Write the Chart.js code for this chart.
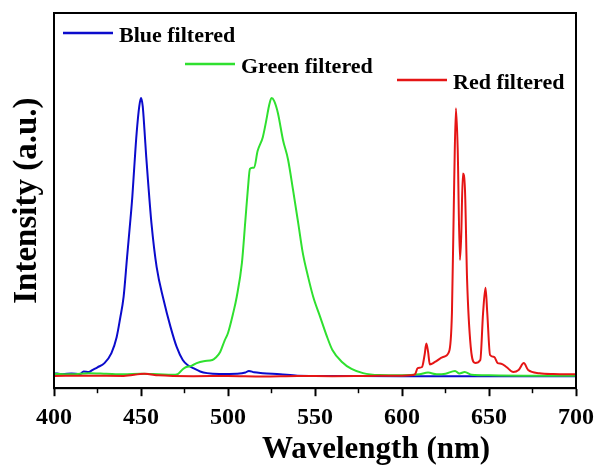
<!DOCTYPE html>
<html>
<head>
<meta charset="utf-8">
<script src="https://cdn.jsdelivr.net/npm/chart.js@4.4.1/dist/chart.umd.min.js"></script>
<style>
  html, body { margin: 0; padding: 0; background: #fff; }
  canvas { display: block; }
</style>
</head>
<body>
<canvas id="spectrumChart" width="598" height="465"></canvas>
<script>
// wavelength (nm) / intensity (a.u., peak = 1)
const blueWavelength = [400, 405, 410, 415, 417, 420, 422, 425, 429, 433, 436, 438, 440, 442, 444, 445, 446, 447.5, 449, 450, 451, 452, 453, 454, 456, 459, 463, 467, 470.5, 474, 477, 480, 484, 488, 495, 505, 510, 512, 515, 520, 530, 540, 560, 600, 650, 700];
const blueIntensity = [0.014, 0.010, 0.013, 0.011, 0.020, 0.018, 0.025, 0.035, 0.050, 0.086, 0.143, 0.210, 0.287, 0.430, 0.570, 0.645, 0.740, 0.875, 0.970, 1.000, 0.970, 0.885, 0.790, 0.706, 0.552, 0.394, 0.276, 0.179, 0.108, 0.061, 0.042, 0.032, 0.020, 0.014, 0.011, 0.012, 0.016, 0.022, 0.017, 0.014, 0.010, 0.005, 0.004, 0.003, 0.003, 0.003];

const greenWavelength = [400, 410, 420, 430, 440, 450, 460, 468, 471, 474, 476, 479, 482, 486, 491, 493, 495.5, 498, 500, 503, 505, 508, 510, 511.5, 512.6, 514, 515, 517, 520, 522, 523.5, 525, 526.5, 528.7, 531.6, 534.5, 537.4, 540.4, 543, 546, 549, 553, 557, 560, 565.5, 571, 577.6, 587, 600, 610, 615, 620, 625, 630.5, 633, 636, 640, 650, 670, 700];
const greenIntensity = [0.012, 0.010, 0.014, 0.012, 0.010, 0.012, 0.010, 0.008, 0.010, 0.028, 0.036, 0.040, 0.050, 0.057, 0.061, 0.070, 0.090, 0.130, 0.158, 0.230, 0.287, 0.409, 0.563, 0.680, 0.746, 0.750, 0.750, 0.810, 0.860, 0.920, 0.970, 1.000, 0.990, 0.946, 0.850, 0.780, 0.670, 0.550, 0.444, 0.360, 0.287, 0.215, 0.143, 0.097, 0.054, 0.029, 0.014, 0.007, 0.006, 0.010, 0.016, 0.010, 0.012, 0.022, 0.013, 0.018, 0.008, 0.006, 0.005, 0.005];

const redWavelength = [400, 420, 440, 452, 455, 460, 480, 500, 520, 540, 560, 580, 600, 605, 607.5, 609, 611.5, 613, 614, 615, 616, 619, 623.6, 627, 628.7, 630, 631, 632, 633.3, 634, 635, 636.2, 637.4, 639.5, 642, 645, 646.6, 648, 649, 650.6, 653, 655, 657, 660, 664, 667, 670, 672.5, 679, 687, 700];
const redIntensity = [0.004, 0.005, 0.004, 0.012, 0.010, 0.006, 0.003, 0.004, 0.002, 0.004, 0.003, 0.004, 0.005, 0.006, 0.010, 0.032, 0.036, 0.080, 0.120, 0.090, 0.045, 0.054, 0.072, 0.090, 0.230, 0.700, 0.964, 0.820, 0.420, 0.500, 0.730, 0.670, 0.350, 0.108, 0.050, 0.061, 0.230, 0.320, 0.230, 0.079, 0.072, 0.050, 0.048, 0.036, 0.018, 0.025, 0.050, 0.025, 0.014, 0.011, 0.010];

const seriesLabels = ['Blue filtered', 'Green filtered', 'Red filtered'];
const xTicks = [400, 450, 500, 550, 600, 650, 700];
const xMinorTicks = [425, 475, 525, 575, 625, 675];

const serif = "'Liberation Serif', 'Times New Roman', serif";

function toPoints(xs, ys) {
    return xs.map((x, i) => ({ x: x, y: ys[i] }));
}

// frame, minor ticks, axis titles and the staggered legend
const decorations = {
    id: 'decorations',
    afterDraw(chart) {
        const ctx = chart.ctx;
        const a = chart.chartArea;
        const xs = chart.scales.x;
        ctx.save();
        ctx.strokeStyle = '#000';
        ctx.lineWidth = 2;
        ctx.strokeRect(a.left, a.top, a.right - a.left, a.bottom - a.top);

        ctx.lineWidth = 1.5;
        xMinorTicks.forEach(v => {
            const px = xs.getPixelForValue(v);
            ctx.beginPath();
            ctx.moveTo(px, a.bottom);
            ctx.lineTo(px, a.bottom + 5);
            ctx.stroke();
        });

        ctx.fillStyle = '#000';
        ctx.font = 'bold 31px ' + serif;
        ctx.textAlign = 'center';
        ctx.textBaseline = 'alphabetic';
        ctx.fillText('Wavelength (nm)', 376, 458);

        ctx.save();
        ctx.font = 'bold 33px ' + serif;
        ctx.translate(36, (a.top + a.bottom) / 2);
        ctx.rotate(-Math.PI / 2);
        ctx.fillText('Intensity (a.u.)', 0, 0);
        ctx.restore();

        const spots = [
            { x: 63, y: 33, text: 42 },
            { x: 185, y: 64, text: 73 },
            { x: 397, y: 80, text: 89 }
        ];
        ctx.font = 'bold 22px ' + serif;
        ctx.textAlign = 'left';
        chart.data.datasets.forEach((ds, i) => {
            const s = spots[i];
            ctx.strokeStyle = ds.borderColor;
            ctx.lineWidth = 2.5;
            ctx.beginPath();
            ctx.moveTo(s.x, s.y);
            ctx.lineTo(s.x + 50, s.y);
            ctx.stroke();
            ctx.fillText(ds.label, s.x + 56, s.text);
        });
        ctx.restore();
    }
};

new Chart(document.getElementById('spectrumChart').getContext('2d'), {
    type: 'line',
    data: {
        datasets: [{
            label: seriesLabels[0],
            data: toPoints(blueWavelength, blueIntensity),
            borderColor: '#0b0bcc',
            order: 2
        }, {
            label: seriesLabels[1],
            data: toPoints(greenWavelength, greenIntensity),
            borderColor: '#2fe02f',
            order: 1
        }, {
            label: seriesLabels[2],
            data: toPoints(redWavelength, redIntensity),
            borderColor: '#e51515',
            order: 0
        }]
    },
    options: {
        responsive: false,
        animation: false,
        devicePixelRatio: 1,
        layout: { padding: { left: 54, right: 22, top: 13, bottom: 26 } },
        elements: {
            point: { radius: 0 },
            line: { borderWidth: 2, cubicInterpolationMode: 'monotone', fill: false }
        },
        plugins: {
            legend: { display: false },
            tooltip: { enabled: false }
        },
        scales: {
            x: {
                type: 'linear',
                min: 400,
                max: 700,
                afterBuildTicks: scale => { scale.ticks = xTicks.map(v => ({ value: v })); },
                afterFit: scale => { scale.paddingLeft = 0; scale.paddingRight = 0; },
                ticks: {
                    color: '#000',
                    padding: 7,
                    maxRotation: 0,
                    font: { family: serif, size: 24, weight: 'bold' }
                },
                grid: {
                    drawOnChartArea: false,
                    drawTicks: true,
                    tickLength: 8,
                    tickWidth: 2,
                    tickColor: '#000'
                },
                border: { display: true, color: '#000', width: 2 }
            },
            y: {
                display: false,
                min: -0.04,
                max: 1.305
            }
        }
    },
    plugins: [decorations]
});
</script>
</body>
</html>
